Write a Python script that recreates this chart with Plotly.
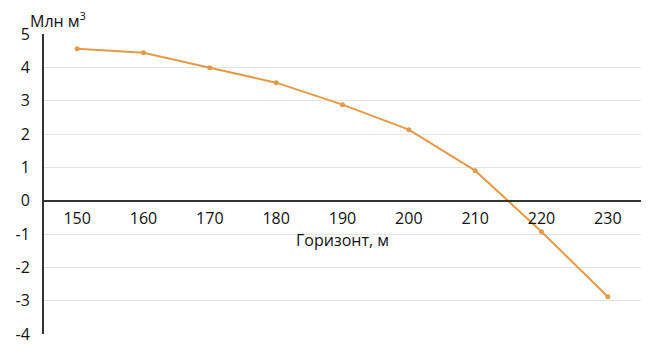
import plotly.graph_objects as go

horizons = ["150", "160", "170", "180", "190", "200", "210", "220", "230"]
volumes = [4.56, 4.44, 3.99, 3.54, 2.88, 2.13, 0.90, -0.93, -2.88]
y_ticks = [-4, -3, -2, -1, 0, 1, 2, 3, 4, 5]
y_tick_labels = ["-4", "-3", "-2", "-1", "0", "1", "2", "3", "4", "5"]

# page body has an 8px margin, so the figure is drawn 8px right and down
W, H = 643, 337
mt, mb, ml, mr = 26, 11, 36, 10
ymin, ymax = -4, 5
zero_pos = (0 - ymin) / (ymax - ymin)

fig = go.Figure()
fig.add_trace(go.Scatter(
    x=horizons, y=volumes, mode="lines+markers",
    line=dict(color="#E39B4A", width=2),
    marker=dict(color="#E39B4A", size=5),
    showlegend=False,
))

font = dict(family="Open Sans, Noto Sans, sans-serif", size=16, color="#111111")

fig.update_layout(
    width=W, height=H,
    margin=dict(l=ml, r=mr, t=mt, b=mb, autoexpand=False),
    paper_bgcolor="white", plot_bgcolor="white",
    font=font,
    xaxis=dict(
        type="category", range=[-0.5, 8.5], automargin=False,
        anchor="free", position=zero_pos,
        showgrid=False, showline=True, linecolor="#333333", linewidth=2,
        ticks="", ticklabelstandoff=3,
        title=dict(text="Горизонт, м", standoff=4, font=font),
        tickfont=font,
    ),
    yaxis=dict(
        range=[ymin, ymax], tickvals=y_ticks, ticktext=y_tick_labels,
        automargin=False,
        showgrid=True, gridcolor="#e4e4e4", gridwidth=1,
        zeroline=False,
        showline=True, linecolor="#333333", linewidth=2,
        ticks="", ticklabelstandoff=9,
        tickfont=font,
    ),
    annotations=[dict(
        text="Млн м<sup>3</sup>", xref="paper", yref="paper",
        x=(28 - 44) / (W - ml - mr), y=1, xanchor="left", yanchor="bottom",
        yshift=0, showarrow=False, font=font,
    )],
)

fig.write_html("out.html")
